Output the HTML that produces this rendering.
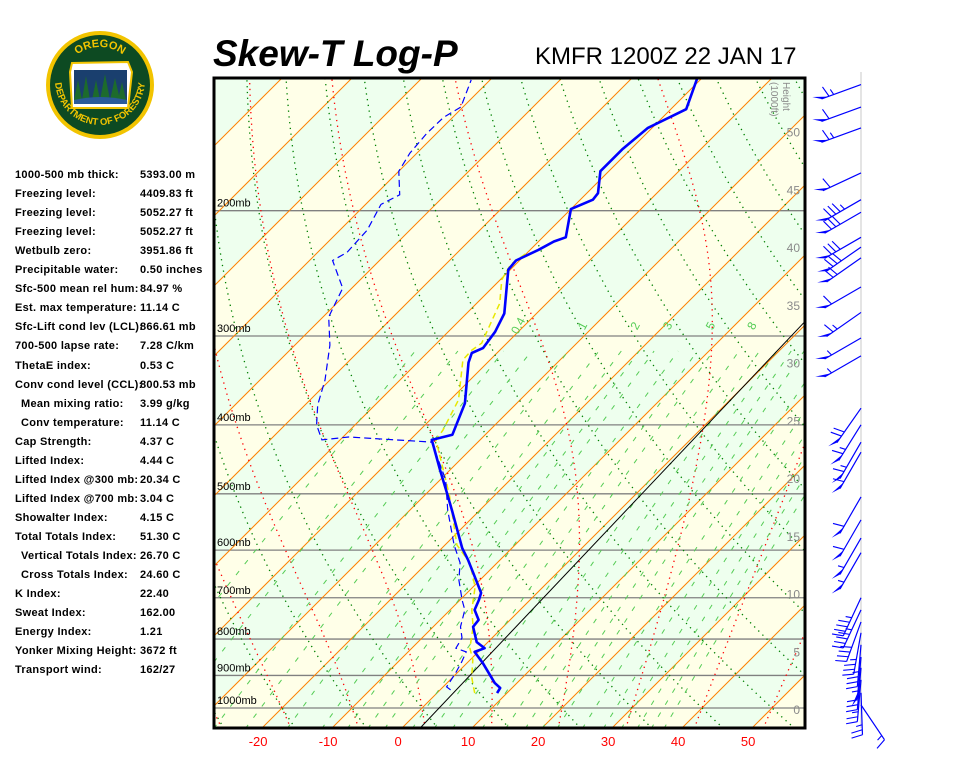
<!DOCTYPE html>
<html><head><meta charset="utf-8"><style>
html,body{margin:0;padding:0;background:#fff;}
body{width:960px;height:768px;overflow:hidden;position:relative;font-family:"Liberation Sans",sans-serif;}
#stats{position:absolute;left:0;top:0;}
.st{position:absolute;font:bold 11px "Liberation Sans",sans-serif;color:#000;white-space:nowrap;letter-spacing:0.3px;}
</style></head><body>
<svg id="chart" width="960" height="768" viewBox="0 0 960 768" xmlns="http://www.w3.org/2000/svg" style="position:absolute;left:0;top:0">
<defs>
<clipPath id="plotclip"><rect x="213" y="78" width="592" height="650"/></clipPath>
<path id="logoTop" d="M62,85 A38,38 0 0 1 138,85"/>
<path id="logoBot" d="M55,80 A45,45 0 0 0 145,80"/>
</defs>
<g id="logo">
<circle cx="100" cy="85" r="54" fill="#f2c400"/>
<circle cx="100" cy="85" r="50" fill="#0d4a22"/>
<path d="M72,63 L128,62 L132,72 L128,108 L72,108 L70,72 Z" fill="#fff" stroke="#f2c400" stroke-width="2"/>
<rect x="74" y="70" width="53" height="30" fill="#1a3f6e"/>
<path d="M74,100 L78,80 L82,100 Z M82,100 L86,76 L90,100 Z M92,100 L96,80 L100,100 Z M100,100 L105,74 L110,100 Z M110,100 L115,78 L120,100 Z M118,100 L122,82 L126,100Z" fill="#1d6b2c"/>
<path d="M74,100 Q100,94 127,100 L127,104 L74,104Z" fill="#2a5a9a"/>
<text font-family="Liberation Sans,sans-serif" font-weight="bold" font-size="11" fill="#f2c400"><textPath href="#logoTop" startOffset="50%" text-anchor="middle">OREGON</textPath></text>
<text font-family="Liberation Sans,sans-serif" font-weight="bold" font-size="9.5" fill="#f2c400"><textPath href="#logoBot" startOffset="50%" text-anchor="middle">DEPARTMENT OF FORESTRY</textPath></text>
</g>
<text x="213" y="66" font-family="Liberation Sans,sans-serif" font-weight="bold" font-style="italic" font-size="37" fill="#000">Skew-T Log-P</text>
<text x="535" y="64" font-family="Liberation Sans,sans-serif" font-size="24" fill="#000">KMFR 1200Z 22 JAN 17</text>
<g id="plot" clip-path="url(#plotclip)"></g>
<g id="over"></g>
<rect x="214" y="78" width="591" height="650" fill="none" stroke="#000" stroke-width="3"/>
<line x1="861" y1="72" x2="861" y2="728" stroke="#e4e4e4" stroke-width="2"/>
<g id="barbs"></g>
</svg>
<div id="stats"></div>
<script>
// ---- data ----
const tempP=[953,937,922,865,834,824,808,769,752,728,705,689,655,619,596,527,500,463,420,413,373,327,317,312,296,279,242,235,227,221,218,199,193,189,176,164,153,144,130];
const tempT=[8.6,8.3,6.8,2.3,-0.5,0.4,-1.6,-4.3,-4.5,-6.5,-7.3,-8.0,-11.1,-14.6,-17.1,-24.0,-27.0,-31.4,-36.9,-34.7,-37.4,-42.7,-43.6,-42.7,-43.3,-44.6,-50.3,-50.5,-48.8,-47.8,-46.7,-50.0,-48.2,-48.4,-51.2,-51.2,-50.6,-47.8,-50.7];
const dewP=[943,934,893,862,834,824,797,769,728,705,661,625,590,527,478,423,416,420,400,375,346,309,282,257,235,229,213,196,190,176,166,156,148,143,131];
const dewT=[1.5,0.5,-0.2,-0.9,-1.7,-3.7,-4.3,-6.1,-7.9,-9.7,-13.0,-15.3,-18.7,-24.6,-29.2,-36.6,-49.2,-52.6,-55.5,-58.2,-60.7,-65.0,-69.2,-71.3,-76.7,-75.8,-76.1,-77.8,-76.5,-80.0,-81.0,-81.4,-81.3,-80.3,-82.7];
const wbP=[953,905,856,824,769,728,676,625,590,502,420,407,369,324,314,307,270,250,238,229];
const wbT=[5.4,2.7,0.4,-1.7,-4.3,-6.9,-9.7,-13.9,-18.3,-26.5,-36.3,-36.7,-38.8,-43.9,-44.0,-43.6,-46.7,-49.8,-50.7,-50.0];
const parcelP=[1067,287];
const parcelT=[2.6,-0.5];
const isobars=[200,300,400,500,600,700,800,900,1000];
const tempTicks=[-20,-10,0,10,20,30,40,50];
const mixRatios=[0.1,0.2,0.4,0.6,1,1.5,2,2.5,3,4,5,6,8,10,12,14,16,20,24,28,32,36,40];
const mixLabels=[0.4,1,2,3,5,8];
const heightTicks=[0,5,10,15,20,25,30,35,40,45,50];
const barbP=[133,143,153,177,193,201,218,225,233,256,278,302,320,379,400,423,437,505,544,577,605,700,728,757,784,815,848,878,913,952,990];
const barbDir=[250,250,250,245,240,240,240,235,235,240,235,240,240,215,212,210,210,210,210,210,210,205,205,200,190,185,185,185,185,178,146];
const barbSpd=[65,60,65,60,85,80,80,80,70,60,65,55,55,70,65,65,60,60,60,55,55,45,45,40,35,35,55,30,25,25,15];

// ---- axes ----
const P_TOP=125,P_BOT=1070;
function yP(p){return 708-309*Math.log(1000/p);}
function xT(T,p){return 402+7.0*T+(728-yP(p));}
function yH(h){return 710-h*11.55;}
const NS='http://www.w3.org/2000/svg';
const plot=document.getElementById('plot');
const over=document.getElementById('over');
function mk(tag,attrs,parent){const e=document.createElementNS(NS,tag);for(const k in attrs)e.setAttribute(k,attrs[k]);parent.appendChild(e);return e;}
function pathFrom(pts){return pts.map((q,i)=>(i?'L':'M')+q[0].toFixed(1)+','+q[1].toFixed(1)).join(' ');}
function logPs(p1,p2,n){const a=[];for(let i=0;i<=n;i++){a.push(p1*Math.pow(p2/p1,i/n));}return a;}

for(let T=-160;T<60;T+=10){
  const k=Math.round(T/10);
  const col=(Math.abs(k)%2===1)?'#ffffe8':'#eeffee';
  const a1=xT(T,P_BOT),a2=xT(T+10,P_BOT),b1=xT(T,P_TOP),b2=xT(T+10,P_TOP);
  const band=mk('polygon',{points:`${a1},${yP(P_BOT)} ${a2},${yP(P_BOT)} ${b2},${yP(P_TOP)} ${b1},${yP(P_TOP)}`,fill:col},plot);
  
  
}
isobars.forEach(p=>{
  const l=mk('line',{x1:213,x2:805,y1:yP(p),y2:yP(p),stroke:'#808080','stroke-width':1.3},plot);
  
  
});
for(let T=-160;T<=60;T+=10){
  const l=mk('line',{x1:xT(T,P_BOT),y1:yP(P_BOT),x2:xT(T,P_TOP),y2:yP(P_TOP),stroke:'#ff8000','stroke-width':1},plot);
  
  
}
for(let t0=-50;t0<=180;t0+=10){
  const th=t0+273.15;
  const pts=logPs(P_BOT,P_TOP,80).map(p=>[xT(th*Math.pow(p/1000,0.2857)-273.15,p),yP(p)]);
  const d=mk('path',{d:pathFrom(pts),fill:'none',stroke:'#008000','stroke-width':1.3,'stroke-dasharray':'1.3,4.5'},plot);
  
  
}
function es(Tc){return 6.112*Math.exp(17.67*Tc/(Tc+243.5));}
function dTdp(Tk,p){const Rd=287.04,Cp=1005.7,L=2.501e6,eps=0.622;const e=es(Tk-273.15);const rs=eps*e/(p-e);return (1/p)*(Rd*Tk+L*rs)/(Cp+L*L*rs*eps/(Rd*Tk*Tk));}
for(let t0=-40;t0<=50;t0+=10){
  let up=[],Tk=t0+273.15,p=1000;
  up.push([p,Tk]);
  while(p>P_TOP){const dp=-2;Tk+=dTdp(Tk,p)*dp;p+=dp;up.push([p,Tk]);}
  let dn=[];Tk=t0+273.15;p=1000;
  while(p<P_BOT){const dp=2;Tk+=dTdp(Tk,p)*dp;p+=dp;dn.push([p,Tk]);}
  const all=dn.reverse().concat(up).map(q=>[xT(q[1]-273.15,q[0]),yP(q[0])]);
  const m=mk('path',{d:pathFrom(all),fill:'none',stroke:'#ff0000','stroke-width':1.3,'stroke-dasharray':'1.3,4.5'},plot);
  
  
}
function tMix(w,p){const e=(w/1000)*p/(0.622+w/1000);const l=Math.log(e/6.112);return 243.5*l/(17.67-l);}
mixRatios.forEach(w=>{
  const pts=logPs(P_BOT,315,30).map(p=>[xT(tMix(w,p),p),yP(p)]);
  const m=mk('path',{d:pathFrom(pts),fill:'none',stroke:'#55cc55','stroke-width':1,'stroke-dasharray':'5,9'},plot);
  
  
});
mixLabels.forEach(w=>{
  const p=292,x=xT(tMix(w,p),p),y=yP(p);
  const t=mk('text',{x:x,y:y,fill:'#55cc55','font-size':12,'font-family':'Liberation Sans,sans-serif','text-anchor':'middle',transform:`rotate(-62 ${x} ${y})`},plot);
  t.textContent=String(w);
  
  
});
{const pts=parcelP.map((p,i)=>[xT(parcelT[i],p),yP(p)]);
 const l=mk('path',{d:pathFrom(pts),fill:'none',stroke:'#000','stroke-width':1},plot);
 
 }
{const pts=wbP.map((p,i)=>[xT(wbT[i],p),yP(p)]);
 const l=mk('path',{d:pathFrom(pts),fill:'none',stroke:'#e8e800','stroke-width':1.5,'stroke-dasharray':'6,4'},plot);
 
 }
{const pts=dewP.map((p,i)=>[xT(dewT[i],p),yP(p)]);
 const l=mk('path',{d:pathFrom(pts),fill:'none',stroke:'#0000ff','stroke-width':1.2,'stroke-dasharray':'7,4'},plot);
 
 }
{const pts=tempP.map((p,i)=>[xT(tempT[i],p),yP(p)]);
 const l=mk('path',{d:pathFrom(pts),fill:'none',stroke:'#0000ff','stroke-width':2.6,'stroke-linejoin':'round'},plot);
 
 }
isobars.forEach(p=>{
  const t=mk('text',{x:217,y:yP(p)-4,'font-size':11,'font-family':'Liberation Sans,sans-serif',fill:'#000'},plot);
  t.textContent=p+'mb';
  
  
});
heightTicks.forEach(h=>{
  const t=mk('text',{x:800,y:yH(h)+4,'font-size':12,'font-family':'Liberation Sans,sans-serif',fill:'#8a8a8a','text-anchor':'end'},plot);
  t.textContent=String(h);
  
  
});
{const t=mk('text',{x:783,y:82,'font-size':10,'font-family':'Liberation Sans,sans-serif',fill:'#8a8a8a',transform:'rotate(90 783 82)'},plot);
 t.textContent='Height';
 
 
 const t2=mk('text',{x:771,y:82,'font-size':10,'font-family':'Liberation Sans,sans-serif',fill:'#8a8a8a',transform:'rotate(90 771 82)'},plot);
 t2.textContent='(1000ft)';
 
 }
tempTicks.forEach(T=>{
  const t=mk('text',{x:xT(T,P_BOT)-3,y:746,'font-size':13,'font-family':'Liberation Sans,sans-serif',fill:'#ff0000','text-anchor':'middle'},over);
  t.textContent=String(T);
  
  
});
// wind barbs
const bg=document.getElementById('barbs');
barbP.forEach((p,i)=>{
  const y=yP(p),x=861;
  const r=barbDir[i]*Math.PI/180;
  const ux=Math.sin(r),uy=-Math.cos(r);
  const L=42;
  const tx=x+ux*L,ty=y+uy*L;
  const g=mk('g',{},bg);
  
  
  mk('line',{x1:x,y1:y,x2:tx,y2:ty,stroke:'#0000ff','stroke-width':1.2},g);
  const qx=-uy,qy=ux;
  let s=barbSpd[i],pos=0;
  while(s>=50){
    const bx=tx-ux*pos,by=ty-uy*pos;
    const cx=tx-ux*(pos+7),cy=ty-uy*(pos+7);
    mk('polygon',{points:`${bx},${by} ${cx},${cy} ${bx+qx*5+ux*8},${by+qy*5+uy*8}`,fill:'#0000ff'},g);
    pos+=8;s-=50;
  }
  while(s>=10){
    const bx=tx-ux*pos,by=ty-uy*pos;
    mk('line',{x1:bx,y1:by,x2:bx+qx*11+ux*3,y2:by+qy*11+uy*3,stroke:'#0000ff','stroke-width':1.1},g);
    pos+=5;s-=10;
  }
  if(s>=5){
    const bx=tx-ux*pos,by=ty-uy*pos;
    mk('line',{x1:bx,y1:by,x2:bx+qx*6+ux*1.5,y2:by+qy*6+uy*1.5,stroke:'#0000ff','stroke-width':1.1},g);
  }
});
const stats=[["1000-500 mb thick:","5393.00 m",15],["Freezing level:","4409.83 ft",15],["Freezing level:","5052.27 ft",15],["Freezing level:","5052.27 ft",15],["Wetbulb zero:","3951.86 ft",15],["Precipitable water:","0.50 inches",15],["Sfc-500 mean rel hum:","84.97 %",15],["Est. max temperature:","11.14 C",15],["Sfc-Lift cond lev (LCL):","866.61 mb",15],["700-500 lapse rate:","7.28 C/km",15],["ThetaE index:","0.53 C",15],["Conv cond level (CCL):","800.53 mb",15],["Mean mixing ratio:","3.99 g/kg",21],["Conv temperature:","11.14 C",21],["Cap Strength:","4.37 C",15],["Lifted Index:","4.44 C",15],["Lifted Index @300 mb:","20.34 C",15],["Lifted Index @700 mb:","3.04 C",15],["Showalter Index:","4.15 C",15],["Total Totals Index:","51.30 C",15],["Vertical Totals Index:","26.70 C",21],["Cross Totals Index:","24.60 C",21],["K Index:","22.40",15],["Sweat Index:","162.00",15],["Energy Index:","1.21",15],["Yonker Mixing Height:","3672 ft",15],["Transport wind:","162/27",15]];
const sp=document.getElementById('stats');
stats.forEach((s,i)=>{
  const a=document.createElement('div');a.className='st';a.style.left=s[2]+'px';a.style.top=(169+i*19.05)+'px';a.textContent=s[0];
  
  
  sp.appendChild(a);
  const b=document.createElement('div');b.className='st';b.style.left='140px';b.style.top=(169+i*19.05)+'px';b.textContent=s[1];
  
  
  sp.appendChild(b);
});
</script>
</body></html>
